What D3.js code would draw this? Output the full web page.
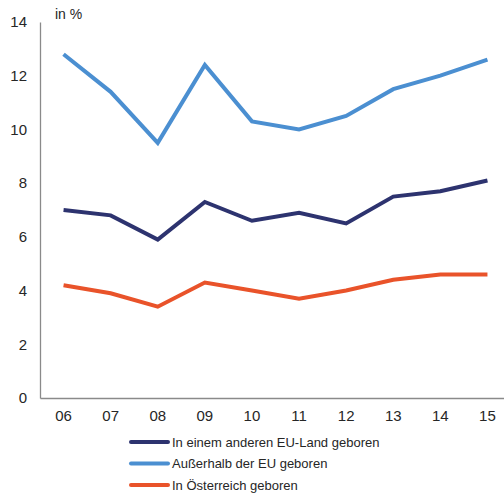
<!DOCTYPE html>
<html>
<head>
<meta charset="utf-8">
<script src="https://cdn.jsdelivr.net/npm/d3@7"></script>
<style>
  html, body { margin: 0; padding: 0; background: #fff; }
  svg { display: block; font-family: "Liberation Sans", Arial, sans-serif; }
</style>
</head>
<body>
<svg id="chart" width="504" height="493"></svg>
<script>
// Years (two-digit labels)
const years = ["06", "07", "08", "09", "10", "11", "12", "13", "14", "15"];

// Rates in % by country of birth
const otherEU  = [7.0, 6.8, 5.9, 7.3, 6.6, 6.9, 6.5, 7.5, 7.7, 8.1];
const outsideEU = [12.8, 11.4, 9.5, 12.4, 10.3, 10.0, 10.5, 11.5, 12.0, 12.6];
const austria  = [4.2, 3.9, 3.4, 4.3, 4.0, 3.7, 4.0, 4.4, 4.6, 4.6];

const yTicks = [0, 2, 4, 6, 8, 10, 12, 14];

const seriesNames = [
  "In einem anderen EU-Land geboren",
  "Außerhalb der EU geboren",
  "In Österreich geboren"
];
const seriesColors = ["#2d336f", "#4b8fd1", "#e9532a"];
const seriesValues = [otherEU, outsideEU, austria];

const svg = d3.select("#chart");
const plotLeft = 40, plotRight = 511, plotTop = 22, plotBottom = 398;

const x = d3.scaleBand().domain(years).range([plotLeft, plotRight]);
const y = d3.scaleLinear().domain([0, 14]).range([plotBottom, plotTop]);

// Y axis
const yAxis = svg.append("g")
  .attr("transform", `translate(${plotLeft},0)`)
  .call(d3.axisLeft(y).tickValues(yTicks).tickSize(0).tickPadding(13));
yAxis.select(".domain").attr("stroke", "#8a8a8a").attr("stroke-width", 1.3);
yAxis.selectAll("text").attr("font-size", 15).attr("fill", "#262626")
  .attr("font-family", "Liberation Sans, Arial, sans-serif");

// X axis
const xAxis = svg.append("g")
  .attr("transform", `translate(0,${plotBottom})`)
  .call(d3.axisBottom(x).tickSize(0).tickPadding(12));
xAxis.select(".domain").attr("stroke", "#8a8a8a").attr("stroke-width", 1.3);
xAxis.selectAll("text").attr("font-size", 15).attr("fill", "#262626")
  .attr("font-family", "Liberation Sans, Arial, sans-serif");

// Unit label
svg.append("text")
  .attr("x", 55).attr("y", 19)
  .attr("font-size", 14).attr("fill", "#262626")
  .text("in %");

// Lines
const line = d3.line()
  .x((d, i) => x(years[i]) + x.bandwidth() / 2)
  .y(d => y(d));

seriesValues.forEach((vals, k) => {
  svg.append("path")
    .datum(vals)
    .attr("fill", "none")
    .attr("stroke", seriesColors[k])
    .attr("stroke-width", 4)
    .attr("stroke-linejoin", "miter")
    .attr("d", line);
});

// Legend
const legend = svg.append("g");
seriesNames.forEach((name, k) => {
  const ly = 442 + k * 21.5;
  legend.append("line")
    .attr("x1", 131).attr("x2", 168)
    .attr("y1", ly).attr("y2", ly)
    .attr("stroke", seriesColors[k])
    .attr("stroke-width", 4)
    .attr("stroke-linecap", "round");
  legend.append("text")
    .attr("x", 172).attr("y", ly)
    .attr("dy", "0.35em")
    .attr("font-size", 13).attr("fill", "#262626")
    .text(name);
});
</script>
</body>
</html>
